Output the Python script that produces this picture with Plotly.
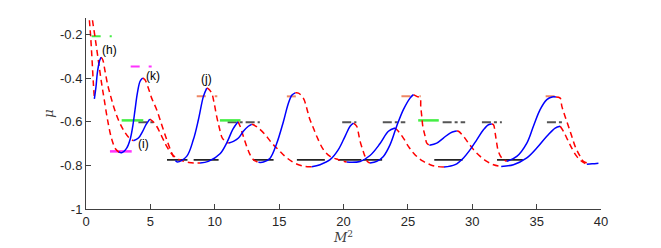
import plotly.graph_objects as go

# ---------------- data ----------------
# red dashed (unstable) branches
redA_x = [0.20, 0.26, 0.36, 0.47, 0.57, 0.65]
redA_y = [-0.09, -0.133, -0.209, -0.316, -0.423, -0.493]
redB_x = [0.42, 0.50, 0.72, 0.96, 1.20, 1.42, 1.70, 2.00, 2.30, 2.60]
redB_y = [-0.09, -0.133, -0.22, -0.32, -0.42, -0.50, -0.60, -0.68, -0.725, -0.741]
redH_x = [1.17, 1.30, 1.48, 1.68, 1.92, 2.18, 2.51, 2.90, 3.29, 3.68]
redH_y = [-0.305, -0.316, -0.369, -0.430, -0.484, -0.537, -0.591, -0.637, -0.670, -0.687]
redK_x = [4.40, 4.58, 4.84, 5.10, 5.49, 5.88, 6.27, 6.66, 6.95]
redK_y = [-0.400, -0.408, -0.446, -0.492, -0.545, -0.614, -0.682, -0.744, -0.778]
redI_x = [4.95, 5.18, 5.49, 5.88, 6.27, 6.70, 7.30, 8.00, 8.86]
redI_y = [-0.588, -0.598, -0.621, -0.667, -0.713, -0.750, -0.775, -0.787, -0.789]
redJ_x = [9.38, 9.51, 9.76, 9.95, 10.15, 10.36, 10.59, 10.93, 11.10]
redJ_y = [-0.446, -0.450, -0.469, -0.514, -0.576, -0.629, -0.675, -0.695, -0.698]
red5_x = [11.80, 11.97, 12.22, 12.48, 12.74, 13.00, 13.39]
red5_y = [-0.600, -0.621, -0.667, -0.713, -0.751, -0.774, -0.786]
red6_x = [12.87, 13.00, 13.39, 13.91, 14.43, 14.94, 15.46, 15.98, 16.50, 17.02, 17.53]
red6_y = [-0.612, -0.614, -0.629, -0.659, -0.698, -0.728, -0.759, -0.782, -0.797, -0.805, -0.806]
red7_x = [16.25, 16.50, 16.88, 17.14, 17.35, 17.66, 17.92, 18.44, 18.96, 19.60, 20.25]
red7_y = [-0.468, -0.469, -0.492, -0.537, -0.583, -0.629, -0.667, -0.728, -0.759, -0.774, -0.785]
red8_x = [20.77, 21.03, 21.16, 21.29, 21.49, 21.67, 21.86, 22.06]
red8_y = [-0.607, -0.621, -0.652, -0.690, -0.728, -0.759, -0.782, -0.789]
red9_x = [24.00, 24.26, 24.65, 25.04, 25.43, 25.82, 26.21, 26.73, 27.24, 27.80]
red9_y = [-0.629, -0.644, -0.675, -0.713, -0.743, -0.766, -0.782, -0.797, -0.805, -0.808]
red10_x = [25.43, 25.69, 25.95, 26.00, 26.08, 26.16, 26.34, 26.47, 26.67]
red10_y = [-0.476, -0.484, -0.492, -0.530, -0.576, -0.621, -0.667, -0.698, -0.708]
red11_x = [28.80, 28.93, 29.32, 29.71, 30.10, 30.62, 31.13, 31.65, 32.25]
red11_y = [-0.643, -0.644, -0.667, -0.698, -0.728, -0.759, -0.782, -0.797, -0.805]
red12_x = [31.52, 31.65, 31.78, 31.90, 32.03, 32.29, 32.68]
red12_y = [-0.611, -0.614, -0.652, -0.698, -0.736, -0.766, -0.782]
red13_x = [36.50, 36.83, 36.96, 37.21, 37.47, 37.73, 37.99, 38.38, 38.64, 39.03]
red13_y = [-0.487, -0.492, -0.530, -0.576, -0.621, -0.667, -0.713, -0.759, -0.782, -0.790]
red14_x = [36.83, 37.08, 37.40, 37.73, 38.12, 38.51, 38.90]
red14_y = [-0.621, -0.644, -0.682, -0.721, -0.759, -0.782, -0.795]

# blue solid (stable) branches
blueH_x = [0.65, 0.78, 0.88, 1.04, 1.17]
blueH_y = [-0.495, -0.438, -0.377, -0.324, -0.305]
blueK_x = [2.55, 2.77, 3.16, 3.42, 3.63, 3.81, 3.99, 4.20, 4.40]
blueK_y = [-0.738, -0.742, -0.721, -0.683, -0.621, -0.545, -0.469, -0.415, -0.400]
blueI_x = [3.68, 4.07, 4.40, 4.66, 4.95]
blueI_y = [-0.687, -0.675, -0.644, -0.614, -0.588]
blueJ_x = [6.95, 7.10, 7.82, 8.34, 8.73, 9.12, 9.38]
blueJ_y = [-0.778, -0.785, -0.759, -0.682, -0.591, -0.484, -0.446]
blue5_x = [8.86, 9.50, 10.41, 10.95, 11.40, 11.80]
blue5_y = [-0.789, -0.782, -0.747, -0.695, -0.635, -0.600]
blue6_x = [11.10, 11.45, 11.84, 12.22, 12.61, 12.87]
blue6_y = [-0.698, -0.690, -0.675, -0.644, -0.621, -0.612]
blue7_x = [13.39, 13.78, 14.30, 14.81, 15.33, 15.72, 16.00, 16.25]
blue7_y = [-0.786, -0.785, -0.767, -0.700, -0.600, -0.515, -0.478, -0.468]
blue8_x = [17.53, 18.18, 18.96, 19.60, 20.12, 20.51, 20.77]
blue8_y = [-0.806, -0.797, -0.774, -0.728, -0.667, -0.621, -0.607]
blue9_x = [20.25, 21.29, 22.06, 22.84, 23.49, 24.00]
blue9_y = [-0.785, -0.782, -0.755, -0.700, -0.644, -0.629]
blue10_x = [22.06, 22.58, 23.10, 23.62, 24.13, 24.65, 25.17, 25.43]
blue10_y = [-0.789, -0.782, -0.759, -0.705, -0.621, -0.545, -0.492, -0.476]
blue11_x = [26.67, 27.24, 27.76, 28.28, 28.67, 28.80]
blue11_y = [-0.708, -0.698, -0.675, -0.652, -0.644, -0.643]
blue12_x = [27.80, 28.67, 29.32, 29.84, 30.36, 30.87, 31.26, 31.52]
blue12_y = [-0.808, -0.797, -0.766, -0.728, -0.682, -0.637, -0.614, -0.611]
blue13_x = [32.68, 33.46, 34.24, 34.75, 35.27, 35.79, 36.20, 36.50]
blue13_y = [-0.782, -0.759, -0.698, -0.621, -0.545, -0.499, -0.487, -0.487]
blue14_x = [32.25, 33.20, 34.24, 35.01, 35.79, 36.44, 36.83]
blue14_y = [-0.805, -0.797, -0.766, -0.721, -0.667, -0.629, -0.621]
blue15_x = [38.90, 39.30, 39.80]
blue15_y = [-0.795, -0.793, -0.790]

# short level markers: (x start, x end) and level
black_x0 = [6.29, 8.36, 12.98, 16.38, 19.58, 21.53, 27.05, 31.92]
black_x1 = [7.88, 10.30, 14.57, 18.55, 21.39, 23.00, 29.25, 33.93]
black_level = -0.775
gray_x0 = [4.07, 11.00, 19.90, 23.05, 27.70, 30.75, 35.80]
gray_x1 = [5.23, 13.50, 21.00, 24.80, 29.45, 32.30, 37.10]
gray_level = -0.603
orange_x0 = [8.60, 15.60, 24.50, 35.70]
orange_x1 = [10.20, 16.90, 26.00, 37.10]
orange_level = -0.484
green_x0 = [2.77, 10.40, 25.80]
green_x1 = [4.45, 12.00, 27.40]
green_level = -0.594
green_top_x = [0.44, 2.00]
green_top_level = -0.209
magenta_top_x = [3.47, 5.10]
magenta_top_level = -0.347
magenta_low_x = [1.86, 3.55]
magenta_low_level = -0.736

labels = ["(h)", "(k)", "(i)", "(j)"]
label_x = [1.81, 5.23, 4.45, 9.32]
label_y = [-0.273, -0.392, -0.700, -0.404]

x_ticks = [0, 5, 10, 15, 20, 25, 30, 35, 40]
y_ticks = [-1, -0.8, -0.6, -0.4, -0.2]
y_tick_text = ["-1", "-0.8", "-0.6", "-0.4", "-0.2"]

# ---------------- figure ----------------
fig = go.Figure()

def seg_trace(x0s, x1s, level, color, dash, width):
    xs, ys = [], []
    for a, b in zip(x0s, x1s):
        xs += [a, b, None]
        ys += [level, level, None]
    fig.add_trace(go.Scatter(x=xs, y=ys, mode="lines",
                             line=dict(color=color, dash=dash, width=width),
                             hoverinfo="skip", showlegend=False))

seg_trace(black_x0, black_x1, black_level, "#000000", "solid", 1.5)
seg_trace(gray_x0, gray_x1, gray_level, "#555555", "dashdot", 2)
seg_trace(orange_x0, orange_x1, orange_level, "#ee8866", "dash", 2)
seg_trace(green_x0, green_x1, green_level, "#44ee44", "solid", 2.5)
seg_trace([green_top_x[0]], [green_top_x[1]], green_top_level, "#44ee44", "dash", 2)
seg_trace([magenta_top_x[0]], [magenta_top_x[1]], magenta_top_level, "#ff33ff", "dash", 2)
seg_trace([magenta_low_x[0]], [magenta_low_x[1]], magenta_low_level, "#ff33ff", "solid", 2.5)

reds = [(redA_x, redA_y), (redB_x, redB_y), (redH_x, redH_y), (redK_x, redK_y),
        (redI_x, redI_y), (redJ_x, redJ_y), (red5_x, red5_y), (red6_x, red6_y),
        (red7_x, red7_y), (red8_x, red8_y), (red9_x, red9_y), (red10_x, red10_y),
        (red11_x, red11_y), (red12_x, red12_y), (red13_x, red13_y), (red14_x, red14_y)]
blues = [(blueH_x, blueH_y), (blueK_x, blueK_y), (blueI_x, blueI_y), (blueJ_x, blueJ_y),
         (blue5_x, blue5_y), (blue6_x, blue6_y), (blue7_x, blue7_y), (blue8_x, blue8_y),
         (blue9_x, blue9_y), (blue10_x, blue10_y), (blue11_x, blue11_y),
         (blue12_x, blue12_y), (blue13_x, blue13_y), (blue14_x, blue14_y),
         (blue15_x, blue15_y)]

for xs, ys in reds:
    fig.add_trace(go.Scatter(x=xs, y=ys, mode="lines", line_shape="spline",
                             line=dict(color="#ff0000", dash="6px,4px", width=1.5),
                             hoverinfo="skip", showlegend=False))
for xs, ys in blues:
    fig.add_trace(go.Scatter(x=xs, y=ys, mode="lines", line_shape="spline",
                             line=dict(color="#0000ff", width=1.5),
                             hoverinfo="skip", showlegend=False))

for t, lx, ly in zip(labels, label_x, label_y):
    fig.add_annotation(x=lx, y=ly, text=t, showarrow=False,
                       font=dict(family="Liberation Sans, Arial", size=12, color="#000"))

axis_common = dict(showline=True, linecolor="#404040", linewidth=1,
                   ticks="inside", ticklen=5, tickcolor="#404040",
                   showgrid=False, zeroline=False, mirror=False, automargin=False,
                   tickfont=dict(family="Liberation Sans, Arial", size=13, color="#262626"))

fig.update_xaxes(range=[0, 40], tickvals=x_ticks, **axis_common,
                 title=dict(text="<i>M</i><sup>2</sup>", standoff=2,
                            font=dict(family="DejaVu Serif, Liberation Serif", size=13, color="#404040")))
fig.update_yaxes(range=[-1, -0.125], tickvals=y_ticks, ticktext=y_tick_text, **axis_common,
                 title=dict(text="<i>μ</i>", standoff=3,
                            font=dict(family="DejaVu Serif, Liberation Serif", size=13, color="#404040")))

# the page body adds an 8 px offset, so the figure is 8 px smaller each way
fig.update_layout(width=653, height=240,
                  margin=dict(l=78, r=60, t=10, b=39),
                  paper_bgcolor="white", plot_bgcolor="white")

fig.write_html("out.html")
